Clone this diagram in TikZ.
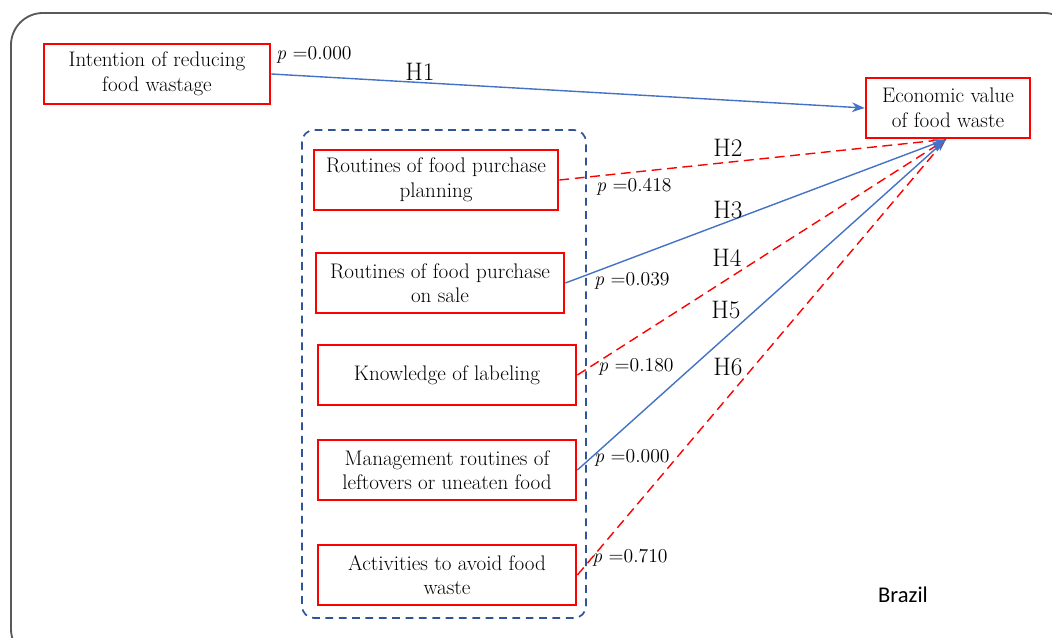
\documentclass[tikz,border=0pt]{standalone}
\usepackage{fontspec}
\usepackage{tikz}
\usetikzlibrary{arrows.meta}
\newfontfamily\brfont{Carlito}

\begin{document}
\begin{tikzpicture}

% Colours
\definecolor{colBox}{HTML}{FF0000}
\definecolor{colSig}{HTML}{4472C4}
\definecolor{colGroup}{HTML}{2F5597}
\definecolor{colFrame}{HTML}{595959}

\tikzset{
  varbox/.style={draw=colBox, line width=2pt, align=center, inner sep=2pt,
    font=\fontsize{15}{17.5}\selectfont},
  sigline/.style={draw=colSig, line width=1pt, -{Stealth[length=9pt,width=7pt]}},
  nsline/.style={draw=colBox, line width=1pt, dash pattern=on 7pt off 4pt},
  hlab/.style={font=\fontsize{18}{20}\selectfont},
  plab/.style={font=\fontsize{14}{16}\selectfont}
}

\useasboundingbox (0,0) rectangle (26.3,15.925);

% Frame
\draw[colFrame, line width=1.3pt, rounded corners=0.8cm] (0.275,15.6) rectangle (26.9,-0.6);

% Dashed group
\draw[colGroup, line width=1.2pt, dash pattern=on 5.5pt off 4pt, rounded corners=0.3cm]
  (7.55,12.675) rectangle (14.65,0.475);

% Variables
\node[varbox, minimum width=5.65cm, minimum height=1.5cm] (intent) at (3.925,14.075)
  {Intention of reducing\\food wastage};
\node[varbox, minimum width=4.1cm, minimum height=1.5cm] (eco) at (23.7,13.225)
  {Economic value\\of food waste};
\node[varbox, minimum width=6.1cm, minimum height=1.5cm] (plan) at (10.9,11.425)
  {Routines of food purchase\\planning};
\node[varbox, minimum width=6.2cm, minimum height=1.5cm] (sale) at (11.0,8.85)
  {Routines of food purchase\\on sale};
\node[varbox, minimum width=6.45cm, minimum height=1.5cm] (know) at (11.175,6.55)
  {Knowledge of labeling};
\node[varbox, minimum width=6.45cm, minimum height=1.5cm] (manag) at (11.175,4.175)
  {Management routines of\\leftovers or uneaten food};
\node[varbox, minimum width=6.45cm, minimum height=1.5cm] (activ) at (11.175,1.55)
  {Activities to avoid food\\waste};

% Paths
\coordinate (tgt) at ([xshift=-0.05cm]eco.south);
\draw[sigline] (intent.east) -- (eco.west);
\draw[nsline] (plan.east) -- (tgt);
\draw[sigline] (sale.east) -- (tgt);
\draw[nsline] (know.east) -- (tgt);
\draw[sigline] (manag.east) -- (tgt);
\draw[nsline] (activ.east) -- (tgt);
\fill[colSig] (tgt) -- ++(-0.34,-0.08) -- ++(0.12,-0.22) -- cycle;

% Hypotheses
\node[hlab] (h1) at (10.5,14.125) {H1};
\node[hlab] (h2) at (18.2,12.225) {H2};
\node[hlab] (h3) at (18.2,10.675) {H3};
\node[hlab] (h4) at (18.175,9.475) {H4};
\node[hlab] (h5) at (18.15,8.175) {H5};
\node[hlab] (h6) at (18.2,6.75) {H6};

% p-values
\node[plab] (p1) at (7.85,14.55) {\textit{p} =0.000};
\node[plab] (p2) at (15.85,11.25) {\textit{p} =0.418};
\node[plab] (p3) at (15.8,8.9) {\textit{p} =0.039};
\node[plab] (p4) at (15.9,6.75) {\textit{p} =0.180};
\node[plab] (p5) at (15.8,4.475) {\textit{p} =0.000};
\node[plab] (p6) at (15.75,1.975) {\textit{p} =0.710};

% Country
\node[font=\brfont\fontsize{16}{18}\selectfont] (country) at (22.575,1.05) {Brazil};

\end{tikzpicture}
\end{document}
